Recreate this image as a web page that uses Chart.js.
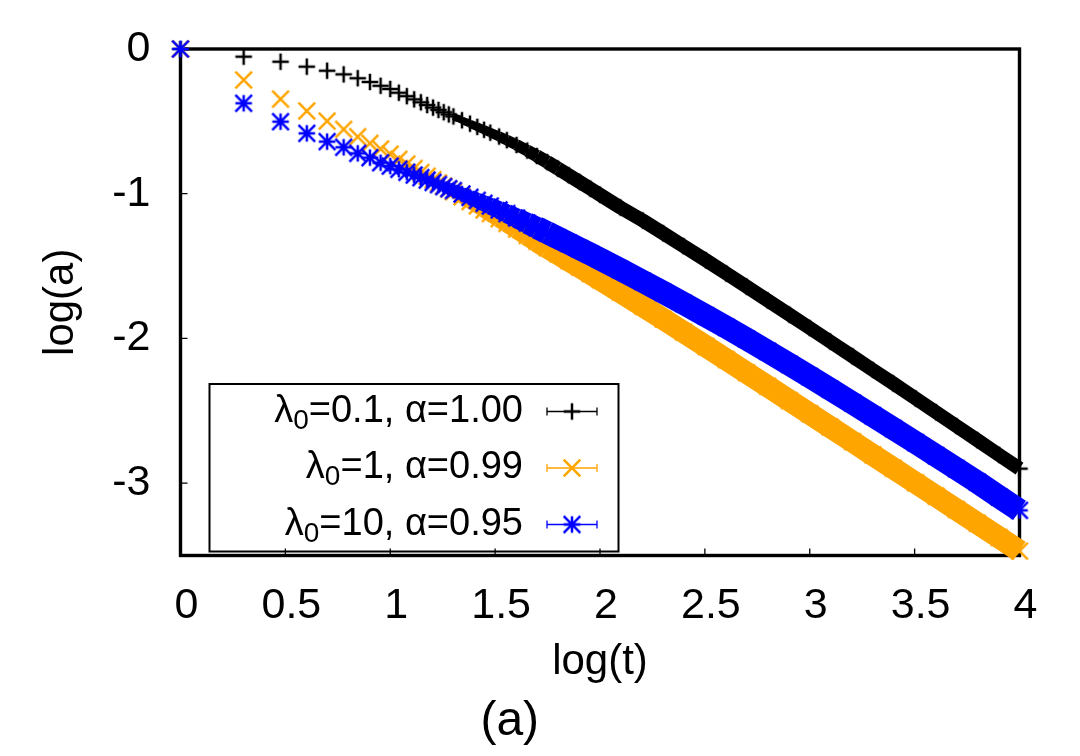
<!DOCTYPE html>
<html><head><meta charset="utf-8">
<script src="https://cdn.jsdelivr.net/npm/chart.js@4.4.1/dist/chart.umd.min.js"></script>
<style>html,body{margin:0;padding:0;background:#fff;}#wrap{width:1080px;height:756px;}</style>
</head><body><div id="wrap"><canvas id="c" width="1080" height="756"></canvas></div>
<script>
// ---- data (x = log(t), y = log(a)) ----
const logT = [0, 0.301, 0.477, 0.602, 0.699, 0.778, 0.845, 0.903, 0.954, 1.000,
  1.041, 1.079, 1.114, 1.146, 1.176, 1.204, 1.230, 1.255, 1.279, 1.301,
  1.342, 1.380, 1.415, 1.447, 1.477, 1.519, 1.556, 1.602, 1.653, 1.699,
  1.748, 1.799, 1.851, 1.903, 1.954, 2.000, 2.097, 2.204, 2.301, 2.398,
  2.505, 2.602, 2.699, 2.799, 2.903, 3.000, 3.097, 3.204, 3.301, 3.398,
  3.505, 3.602, 3.699, 3.799, 3.903, 4.000];
const blackSeries = [0, -0.053, -0.088, -0.122, -0.150, -0.175, -0.202, -0.228, -0.254, -0.276,
  -0.302, -0.326, -0.348, -0.368, -0.387, -0.405, -0.421, -0.437, -0.452, -0.466,
  -0.492, -0.516, -0.538, -0.558, -0.578, -0.605, -0.630, -0.663, -0.702, -0.739,
  -0.781, -0.826, -0.872, -0.919, -0.965, -1.007, -1.095, -1.185, -1.273, -1.362,
  -1.460, -1.551, -1.642, -1.737, -1.836, -1.928, -2.021, -2.124, -2.218, -2.311,
  -2.415, -2.510, -2.605, -2.703, -2.805, -2.900];
const orangeSeries = [0, -0.214, -0.346, -0.428, -0.498, -0.555, -0.606, -0.652, -0.691, -0.726,
  -0.762, -0.795, -0.825, -0.853, -0.879, -0.903, -0.925, -0.947, -0.967, -0.986,
  -1.021, -1.054, -1.084, -1.112, -1.137, -1.173, -1.205, -1.245, -1.289, -1.329,
  -1.372, -1.416, -1.462, -1.507, -1.552, -1.593, -1.680, -1.777, -1.866, -1.956,
  -2.055, -2.146, -2.237, -2.331, -2.429, -2.520, -2.612, -2.713, -2.805, -2.897,
  -2.998, -3.090, -3.182, -3.277, -3.376, -3.469];
const blueSeries = [0, -0.375, -0.502, -0.583, -0.640, -0.679, -0.721, -0.751, -0.786, -0.809,
  -0.831, -0.852, -0.871, -0.889, -0.906, -0.922, -0.937, -0.951, -0.965, -0.978,
  -1.002, -1.025, -1.046, -1.066, -1.085, -1.112, -1.137, -1.168, -1.203, -1.235,
  -1.269, -1.305, -1.342, -1.380, -1.417, -1.451, -1.524, -1.606, -1.681, -1.758,
  -1.844, -1.923, -2.004, -2.089, -2.179, -2.264, -2.350, -2.446, -2.534, -2.622,
  -2.720, -2.810, -2.900, -2.993, -3.095, -3.188];
const lambda0 = ['0.1', '1', '10'];
const alphaVals = ['1.00', '0.99', '0.95'];
const xTickValues = [0, 0.5, 1, 1.5, 2, 2.5, 3, 3.5, 4];
const xTickLabels = ['0', '0.5', '1', '1.5', '2', '2.5', '3', '3.5', '4'];
const yTickValues = [0, -1, -2, -3];
const yTickLabels = ['0', '-1', '-2', '-3'];
const xTitle = 'log(t)';
const yTitle = 'log(a)';
const panelLabel = '(a)';

// ---- styles ----
const FONT = "'Liberation Sans', Arial, Helvetica, sans-serif";
const COLORS = ['#000000', '#ffa500', '#0000ff'];
const KINDS = ['plus', 'cross', 'star'];
const BAND = [14, 22, 23];
const RAMP_START = [1.3, 1.25, 1.25];

function makeMarker(kind, color) {
  const s = 22, c = document.createElement('canvas');
  c.width = s; c.height = s;
  const g = c.getContext('2d');
  g.strokeStyle = color; g.lineWidth = 2.5; g.lineCap = 'butt';
  const m = s / 2, h = 8.3;
  g.beginPath();
  if (kind === 'plus' || kind === 'star') { g.moveTo(m - h, m); g.lineTo(m + h, m); g.moveTo(m, m - h); g.lineTo(m, m + h); }
  if (kind === 'cross' || kind === 'star') { g.moveTo(m - h, m - h); g.lineTo(m + h, m + h); g.moveTo(m - h, m + h); g.lineTo(m + h, m - h); }
  g.stroke();
  return c;
}
const MARKERS = KINDS.map((k, i) => makeMarker(k, COLORS[i]));

function bandWidth(L, full, start) {
  if (L < start) return 1;
  return full * Math.min(1, 0.5 + 0.5 * (L - start) / 0.45);
}

function makeDataset(values, i) {
  const color = COLORS[i], full = BAND[i], start = RAMP_START[i];
  return {
    label: 'λ0=' + lambda0[i] + ', α=' + alphaVals[i],
    data: logT.map((x, k) => ({ x: x, y: values[k] })),
    borderColor: color,
    backgroundColor: color,
    borderWidth: full,
    borderCapStyle: 'butt',
    borderJoinStyle: 'round',
    pointStyle: MARKERS[i],
    pointRadius: 8,
    pointHoverRadius: 8,
    clip: false,
    order: 3 - i,
    segment: {
      borderWidth: c => bandWidth(c.p0.parsed.x, full, start),
      borderColor: c => (c.p0.parsed.x < start ? 'rgba(0,0,0,0)' : color)
    }
  };
}

const framePlugin = {
  id: 'frame',
  beforeDatasetsDraw(chart) {
    const { ctx, chartArea: a, scales } = chart;
    ctx.save();
    ctx.strokeStyle = '#000';
    ctx.lineWidth = 1.3;
    ctx.beginPath();
    xTickValues.forEach(v => { const p = scales.x.getPixelForValue(v); ctx.moveTo(p, a.bottom); ctx.lineTo(p, a.bottom - 7); });
    yTickValues.forEach(v => { const p = scales.y.getPixelForValue(v); ctx.moveTo(a.left, p); ctx.lineTo(a.left + 7, p); });
    ctx.stroke();
    ctx.lineWidth = 3.4;
    ctx.strokeRect(a.left, a.top, a.right - a.left, a.bottom - a.top);
    ctx.restore();
  }
};

const keyPlugin = {
  id: 'key',
  afterDraw(chart) {
    const ctx = chart.ctx;
    ctx.save();
    ctx.strokeStyle = '#000'; ctx.lineWidth = 2;
    ctx.strokeRect(209.5, 384, 409, 167.5);
    const rows = [411.5, 468, 524.5];
    rows.forEach((ry, i) => {
      const main = '38px ' + FONT, sub = '28px ' + FONT;
      const rest = '=' + lambda0[i] + ', α=' + alphaVals[i];
      ctx.font = main;
      const wL = ctx.measureText('λ').width, wR = ctx.measureText(rest).width;
      ctx.font = sub;
      const wS = ctx.measureText('0').width;
      const x0 = 523 - (wL + wS + wR), base = ry + 10;
      ctx.fillStyle = '#000'; ctx.textAlign = 'left'; ctx.textBaseline = 'alphabetic';
      ctx.font = main; ctx.fillText('λ', x0, base);
      ctx.font = sub; ctx.fillText('0', x0 + wL, base + 7);
      ctx.font = main; ctx.fillText(rest, x0 + wL + wS, base);
      ctx.strokeStyle = COLORS[i]; ctx.lineWidth = 1.3;
      ctx.beginPath();
      ctx.moveTo(547, ry); ctx.lineTo(597, ry);
      ctx.moveTo(547, ry - 4); ctx.lineTo(547, ry + 4);
      ctx.moveTo(597, ry - 4); ctx.lineTo(597, ry + 4);
      ctx.stroke();
      ctx.drawImage(MARKERS[i], 572 - 11, ry - 11);
    });
    ctx.restore();
  }
};

new Chart(document.getElementById('c'), {
  type: 'line',
  data: { datasets: [makeDataset(blackSeries, 0), makeDataset(orangeSeries, 1), makeDataset(blueSeries, 2)] },
  options: {
    responsive: false,
    animation: false,
    layout: { padding: { top: 49, right: 60.5, left: 0, bottom: 0 } },
    plugins: {
      legend: { display: false },
      tooltip: { enabled: false },
      title: { display: true, text: panelLabel, position: 'bottom', color: '#000',
        font: { family: FONT, size: 48, weight: 'normal' }, padding: { top: 0, bottom: 5 } }
    },
    scales: {
      x: {
        type: 'linear', min: 0, max: 4,
        afterFit: s => { s.height = 137.9; s.paddingLeft = 0; s.paddingRight = 0; },
        afterBuildTicks: s => { s.ticks = xTickValues.map(v => ({ value: v })); },
        grid: { display: false, drawTicks: false }, border: { display: false },
        ticks: { autoSkip: false, maxRotation: 0, padding: 24.8, labelOffset: 6, color: '#000',
          font: { family: FONT, size: 43 },
          callback: (v) => { const k = xTickValues.indexOf(v); return k >= 0 ? xTickLabels[k] : ''; } },
        title: { display: true, text: xTitle, color: '#000', font: { family: FONT, size: 42 }, padding: { top: 0, bottom: 6 } }
      },
      y: {
        type: 'linear', min: -3.5, max: 0,
        afterFit: s => { s.width = 180.5; s.paddingTop = 0; s.paddingBottom = 0; },
        afterBuildTicks: s => { s.ticks = yTickValues.map(v => ({ value: v })); },
        grid: { display: false, drawTicks: false }, border: { display: false },
        ticks: { autoSkip: false, padding: 30, color: '#000', font: { family: FONT, size: 43 },
          callback: (v) => { const k = yTickValues.indexOf(v); return k >= 0 ? yTickLabels[k] : ''; } },
        title: { display: true, text: yTitle, color: '#000', font: { family: FONT, size: 42 }, padding: { top: 36, bottom: 0 } }
      }
    }
  },
  plugins: [framePlugin, keyPlugin]
});
</script></body></html>
